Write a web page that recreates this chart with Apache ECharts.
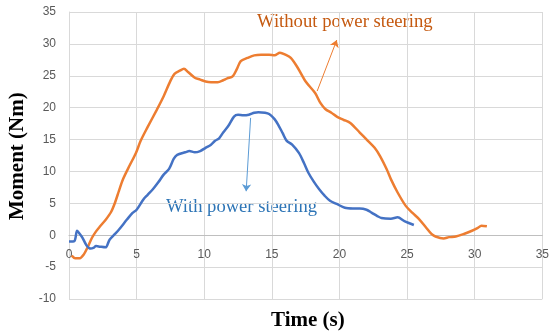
<!DOCTYPE html>
<html>
<head>
<meta charset="utf-8">
<script src="https://cdn.jsdelivr.net/npm/echarts@6/dist/echarts.min.js"></script>
<style>
  html, body { margin: 0; padding: 0; background: #fff; }
  #chart { width: 552px; height: 335px; }
</style>
</head>
<body>
<div id="chart"></div>
<script>
// Trục x, y
var xTicks = [0, 5, 10, 15, 20, 25, 30, 35];
var yTicks = [-10, -5, 0, 5, 10, 15, 20, 25, 30, 35];

// Không có trợ lực lái
var timeWithout = [0.2, 0.45, 0.8, 1.1, 1.4, 1.7, 2.0, 2.3, 2.7, 3.1, 3.4, 3.7, 4.0, 4.5, 4.95, 5.3, 5.8, 6.5, 7.0, 7.5,
    7.8, 8.2, 8.5, 8.8, 9.3, 9.7, 10.1, 10.5, 11.0, 11.4, 11.7, 12.1, 12.4, 12.7, 13.2, 13.7, 14.2, 14.8, 15.2, 15.6,
    16.0, 16.4, 16.9, 17.5, 18.2, 18.6, 18.95, 19.4, 19.8, 20.3, 20.8, 21.5, 22.1, 22.6, 23.0, 23.5, 23.8, 24.3, 24.9, 25.4,
    25.9, 26.4, 26.8, 27.1, 27.7, 28.1, 28.6, 29.2, 29.8, 30.2, 30.5, 30.9];
var momentWithout = [-3.2, -3.6, -3.6, -3.0, -1.8, -0.4, 0.6, 1.4, 2.4, 3.6, 5.1, 7.0, 8.8, 11.0, 12.9, 14.8, 16.9, 19.7, 21.8, 24.2,
    25.3, 25.8, 26.1, 25.6, 24.7, 24.4, 24.1, 24.0, 24.0, 24.3, 24.6, 24.9, 26.0, 27.3, 27.8, 28.2, 28.3, 28.3, 28.2, 28.6,
    28.3, 27.8, 26.3, 24.1, 22.3, 20.7, 19.8, 19.2, 18.6, 18.1, 17.6, 16.1, 14.8, 13.7, 12.4, 10.3, 8.8, 6.7, 4.6, 3.5,
    2.5, 1.2, 0.2, -0.2, -0.5, -0.3, -0.2, 0.2, 0.7, 1.1, 1.5, 1.4];

// Có trợ lực lái
var timeWith = [0, 0.4, 0.6, 0.8, 1.0, 1.3, 1.6, 1.8, 2.0, 2.3, 2.7, 3.0, 3.4, 3.7, 4.3, 4.7, 5.0, 5.5, 5.8, 6.2,
    6.6, 7.0, 7.4, 7.75, 8.0, 8.6, 8.9, 9.3, 9.7, 10.1, 10.5, 10.8, 11.1, 11.4, 11.8, 12.2, 12.5, 12.9, 13.3, 13.7,
    14.0, 14.5, 14.8, 15.2, 15.5, 15.8, 16.1, 16.5, 17.0, 17.4, 17.7, 18.1, 18.5, 18.9, 19.3, 19.8, 20.4, 21.0, 21.5, 22.0,
    22.4, 22.8, 23.1, 23.8, 24.3, 24.8, 25.5];
var momentWith = [-1.0, -0.9, 0.7, 0.2, -0.4, -1.6, -2.1, -2.0, -1.7, -1.8, -1.9, -0.7, 0.2, 0.9, 2.5, 3.5, 4.0, 5.6, 6.3, 7.2,
    8.3, 9.5, 10.4, 12.0, 12.6, 13.0, 13.2, 13.0, 13.2, 13.7, 14.2, 14.8, 15.2, 16.1, 17.2, 18.6, 18.9, 18.8, 18.9, 19.2,
    19.3, 19.2, 19.0, 18.2, 17.2, 16.0, 14.8, 14.2, 12.9, 11.2, 9.8, 8.4, 7.2, 6.2, 5.4, 4.9, 4.3, 4.2, 4.2, 4.0,
    3.5, 3.0, 2.7, 2.6, 2.8, 2.2, 1.6];

// Mũi tên chú thích (toạ độ theo giá trị)
var arrowWithout = [[18.35, 22.6], [19.8, 30.6]];
var arrowWith = [[13.43, 18.4], [13.1, 6.9]];

function pairs(xs, ys) {
    return xs.map(function (x, i) { return [x, ys[i]]; });
}

var chartDom = document.getElementById('chart');
var myChart = echarts.init(chartDom);

var gridTop = 12, gridBottom = 36;
var gridHeight = 335 - gridTop - gridBottom;
var yMin = yTicks[0], yMax = yTicks[yTicks.length - 1];
// đưa trục x lên vị trí y = 0
var zeroOffset = -gridHeight * (0 - yMin) / (yMax - yMin);

var axisLabelStyle = { color: '#595959', fontSize: 12, fontFamily: 'Liberation Sans' };
var gridLine = { show: true, lineStyle: { color: '#d9d9d9', width: 1 } };

var option = {
    animation: false,
    grid: { left: 69, right: 5, top: gridTop, bottom: gridBottom },
    xAxis: {
        type: 'value',
        min: xTicks[0],
        max: xTicks[xTicks.length - 1],
        interval: 5,
        offset: zeroOffset,
        axisLine: { onZero: false, lineStyle: { color: '#bfbfbf', width: 1 } },
        axisTick: { show: false },
        axisLabel: Object.assign({ margin: 13 }, axisLabelStyle),
        splitLine: gridLine
    },
    yAxis: {
        type: 'value',
        min: yMin,
        max: yMax,
        interval: 5,
        axisLine: { show: true, lineStyle: { color: '#d9d9d9', width: 1 } },
        axisTick: { show: false },
        axisLabel: Object.assign({ margin: 13 }, axisLabelStyle),
        splitLine: gridLine
    },
    series: [
        {
            name: 'Without power steering',
            type: 'line',
            data: pairs(timeWithout, momentWithout),
            showSymbol: false,
            smooth: 0.3,
            lineStyle: { color: '#ED7D31', width: 2.5 },
            markLine: {
                silent: true,
                symbol: ['none', 'arrow'],
                symbolSize: 7,
                label: { show: false },
                lineStyle: { color: '#ED7D31', width: 1, type: 'solid' },
                data: [[{ coord: arrowWithout[0] }, { coord: arrowWithout[1] }]]
            }
        },
        {
            name: 'With power steering',
            type: 'line',
            data: pairs(timeWith, momentWith),
            showSymbol: false,
            smooth: 0.3,
            lineStyle: { color: '#4472C4', width: 2.5 },
            markLine: {
                silent: true,
                symbol: ['none', 'arrow'],
                symbolSize: 7,
                label: { show: false },
                lineStyle: { color: '#5B9BD5', width: 1, type: 'solid' },
                data: [[{ coord: arrowWith[0] }, { coord: arrowWith[1] }]]
            }
        }
    ],
    graphic: [
        {
            type: 'text', left: 257, top: 13,
            style: { text: 'Without power steering', fill: '#C55A11', font: '18.7px "Liberation Serif"' }
        },
        {
            type: 'text', left: 166, top: 198,
            style: { text: 'With power steering', fill: '#2E75B6', font: '18.6px "Liberation Serif"' }
        },
        {
            type: 'text', left: 271, top: 310,
            style: { text: 'Time (s)', fill: '#000', font: 'bold 21px "Liberation Serif"' }
        },
        {
            type: 'text', x: 7, y: 220, rotation: Math.PI / 2,
            style: { text: 'Moment (Nm)', fill: '#000', font: 'bold 21px "Liberation Serif"' }
        }
    ]
};

myChart.setOption(option);
</script>
</body>
</html>
